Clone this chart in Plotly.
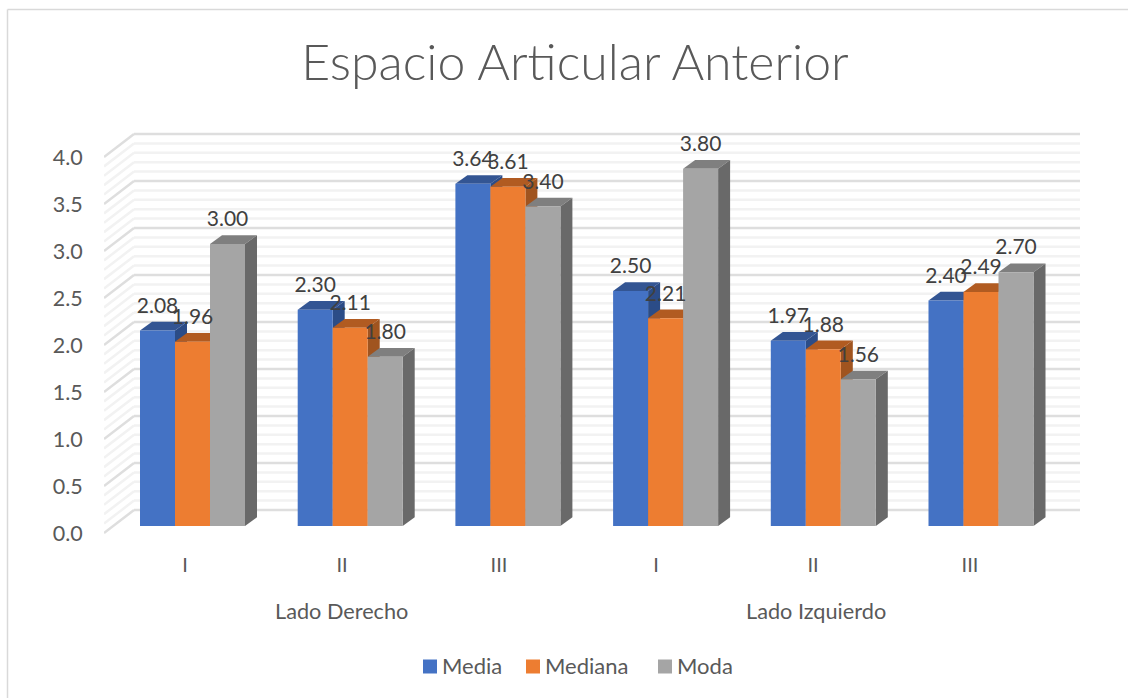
import plotly.graph_objects as go

# Chart data
groups = ["I", "II", "III", "I", "II", "III"]
sides = ["Lado Derecho", "Lado Izquierdo"]
media = [2.08, 2.30, 3.64, 2.50, 1.97, 2.40]
mediana = [1.96, 2.11, 3.61, 2.21, 1.88, 2.49]
moda = [3.00, 1.80, 3.40, 3.80, 1.56, 2.70]
y_ticks = [0.0, 0.5, 1.0, 1.5, 2.0, 2.5, 3.0, 3.5, 4.0]
series = [
    ("Media", media, "#4472C4", "#335593", "#2B4C87"),
    ("Mediana", mediana, "#ED7D31", "#B15B21", "#A0541F"),
    ("Moda", moda, "#A5A5A5", "#7F7F7F", "#696969"),
]

# Figure and plot-area geometry in pixels
W, H = 1128, 698
ML, MR, MT, MB = 104, 43, 125, 153
PX_X = 157.7      # pixels per category
PX_Y = 94.0       # pixels per value unit
ZERO_X, ZERO_Y = 192.5, 526.0

x_range = [(ML - ZERO_X) / PX_X, (W - MR - ZERO_X) / PX_X]
y_range = [(ZERO_Y - (H - MB)) / PX_Y, (ZERO_Y - MT) / PX_Y]

BAR_FRAC = 105.0 / PX_X
BAR_W = BAR_FRAC / 3
DEPTH_X, DEPTH_Y = 12 / PX_X, 8.7 / PX_Y
FRONT_Y = -7 / PX_Y       # wall lines start in front of the bars
BACK_Y = 16 / PX_Y        # and end behind them
LEFT_X = (104 - ZERO_X) / PX_X
BACK_X = (134 - ZERO_X) / PX_X
RIGHT_X = (1080 - ZERO_X) / PX_X


def polygon(points):
    return "M" + "L".join(f"{x:.5f},{y:.5f}" for x, y in points) + "Z"


def paper_x(px):
    return (px - ML) / (W - ML - MR)


def paper_y(px):
    return ((H - MB) - px) / (H - MT - MB)


shapes = []

# Back wall and side wall grid: minor lines first, major lines over them
for major in (False, True):
    for n in range(41):
        is_major = n % 5 == 0
        if is_major != major:
            continue
        v = n / 10
        style = dict(color="#DEDEDE", width=2.5) if major else dict(color="#F2F2F2", width=2.5)
        shapes.append(dict(type="line", layer="below", xref="x", yref="y",
                           x0=LEFT_X, y0=v + FRONT_Y, x1=BACK_X, y1=v + BACK_Y, line=style))
        shapes.append(dict(type="line", layer="below", xref="x", yref="y",
                           x0=BACK_X, y0=v + BACK_Y, x1=RIGHT_X, y1=v + BACK_Y, line=style))

# Top and side faces of every bar, extruded from its value
for s, (name, values, front, top, side) in enumerate(series):
    for g, v in enumerate(values):
        x0 = g - BAR_FRAC / 2 + s * BAR_W
        x1 = x0 + BAR_W
        shapes.append(dict(
            type="path", layer="below", xref="x", yref="y", line=dict(width=0), fillcolor=top,
            path=polygon([(x0, v), (x0 + DEPTH_X, v + DEPTH_Y), (x1 + DEPTH_X, v + DEPTH_Y), (x1, v)])))
        shapes.append(dict(
            type="path", layer="below", xref="x", yref="y", line=dict(width=0), fillcolor=side,
            path=polygon([(x1, 0), (x1 + DEPTH_X, DEPTH_Y), (x1 + DEPTH_X, v + DEPTH_Y), (x1, v)])))

# Chart frame on the top and left edges
frame = dict(color="#D9D9D9", width=1.5)
shapes.append(dict(type="line", xref="paper", yref="paper", x0=paper_x(7.5), x1=paper_x(W),
                   y0=paper_y(9.5), y1=paper_y(9.5), line=frame))
shapes.append(dict(type="line", xref="paper", yref="paper", x0=paper_x(7.5), x1=paper_x(7.5),
                   y0=paper_y(9.5), y1=paper_y(H), line=frame))

fig = go.Figure()
positions = list(range(len(groups)))

for name, values, front, top, side in series:
    fig.add_trace(go.Bar(name=name, x=positions, y=values, showlegend=False,
                         marker=dict(color=front, line=dict(width=0))))

# Value labels sit above each bar's top face
for s, (name, values, front, top, side) in enumerate(series):
    fig.add_trace(go.Scatter(
        x=[g - BAR_FRAC / 2 + (s + 0.5) * BAR_W for g in positions],
        y=[v + 23 / PX_Y for v in values],
        text=[f"{v:.2f}" for v in values],
        mode="text", textposition="middle center",
        textfont=dict(family="Lato", size=21, color="#404040"),
        showlegend=False, hoverinfo="skip", cliponaxis=False))

# Category ticks run on a slightly tighter pitch than the bars
tick_pos = [(185 + 157 * p - ZERO_X) / PX_X for p in positions]

annotations = [
    dict(text=sides[0], x=(341.5 - ZERO_X) / PX_X, y=paper_y(610.5), xref="x", yref="paper",
         showarrow=False, yanchor="middle", font=dict(family="Lato", size=21.7, color="#595959")),
    dict(text=sides[1], x=(816 - ZERO_X) / PX_X, y=paper_y(610.5), xref="x", yref="paper",
         showarrow=False, yanchor="middle", font=dict(family="Lato", size=21.7, color="#595959")),
]

# Legend row: square swatch followed by the series name
legend_swatch_left = [423, 526, 658]
for (name, values, front, top, side), left in zip(series, legend_swatch_left):
    shapes.append(dict(type="rect", xref="paper", yref="paper", line=dict(width=0), fillcolor=front,
                       x0=paper_x(left), x1=paper_x(left + 14),
                       y0=paper_y(673.5), y1=paper_y(659.5)))
    annotations.append(dict(text=name, x=paper_x(left + 17), y=paper_y(665.5),
                            xref="paper", yref="paper", xanchor="left", yanchor="middle",
                            showarrow=False, font=dict(family="Lato", size=22, color="#595959")))

fig.update_layout(
    width=W, height=H,
    margin=dict(l=ML, r=MR, t=MT, b=MB, pad=0),
    paper_bgcolor="white", plot_bgcolor="rgba(0,0,0,0)",
    barmode="group", bargap=1 - BAR_FRAC, bargroupgap=0,
    title=dict(text="Espacio Articular Anterior", x=575 / W, xanchor="center",
               y=1 - 62 / H, yanchor="middle",
               font=dict(family="Lato", size=50, weight=300, color="#595959")),
    xaxis=dict(range=x_range, tickmode="array", tickvals=tick_pos, ticktext=groups,
               showgrid=False, zeroline=False, showline=False,
               ticks="outside", ticklen=2, tickcolor="rgba(0,0,0,0)",
               tickfont=dict(family="Lato", size=20, color="#595959")),
    yaxis=dict(range=y_range, tickmode="array",
               tickvals=[t - 7 / PX_Y for t in y_ticks], ticktext=[f"{t:.1f}" for t in y_ticks],
               showgrid=False, zeroline=False, showline=False,
               ticks="outside", ticklen=16, tickcolor="rgba(0,0,0,0)",
               tickfont=dict(family="Lato", size=21.5, color="#595959")),
    shapes=shapes, annotations=annotations, showlegend=False,
)

fig.write_html("out.html")
